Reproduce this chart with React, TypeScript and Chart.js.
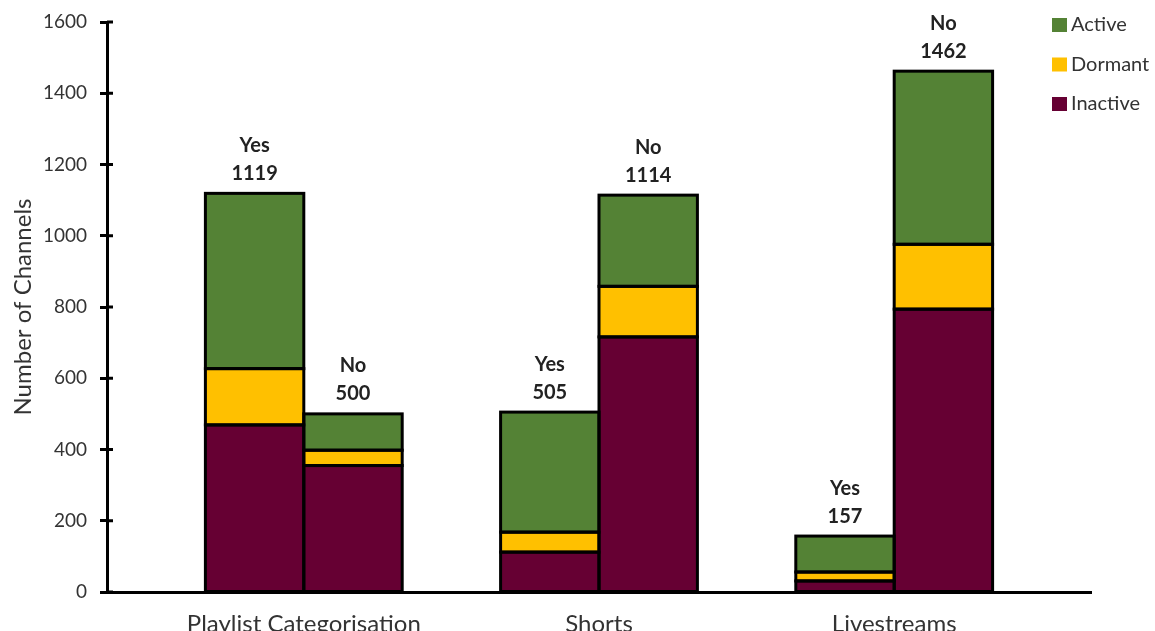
import { useEffect, useRef } from "react";
import { Chart, registerables } from "chart.js";

Chart.register(...registerables);

// Categories along the x axis and the two stacks shown for each
const categories = ["Playlist Categorisation", "Shorts", "Livestreams"];
const stackNames = ["Yes", "No"];
const statusNames = ["Inactive", "Dormant", "Active"];

// Channel counts per status, for channels that use the feature ("Yes")
const inactiveYes = [469, 112, 31];
const dormantYes = [158, 56, 25];
const activeYes = [492, 337, 101];

// Channel counts per status, for channels that do not ("No")
const inactiveNo = [355, 716, 794];
const dormantNo = [43, 142, 182];
const activeNo = [102, 256, 486];

const yMin = 0;
const yMax = 1600;
const yStep = 200;

const statusColors: Record<string, string> = {
  Inactive: "#660033",
  Dormant: "#FFC000",
  Active: "#548235",
};

const FONT = "Lato";
const TEXT = "#333333";
const CANVAS_W = 1155;
const CANVAS_H = 650;

const seriesByStack: Record<string, number[][]> = {
  Yes: [inactiveYes, dormantYes, activeYes],
  No: [inactiveNo, dormantNo, activeNo],
};

// Black outline around every stacked segment, shared edges drawn once
const outlinePlugin = {
  id: "segmentOutline",
  afterDatasetsDraw(chart: any) {
    const ctx = chart.ctx;
    ctx.save();
    ctx.strokeStyle = "#000000";
    ctx.lineWidth = 3;
    ctx.lineJoin = "miter";
    chart.data.datasets.forEach((_: any, di: number) => {
      const meta = chart.getDatasetMeta(di);
      meta.data.forEach((el: any) => {
        const left = el.x - el.width / 2;
        const top = Math.min(el.y, el.base);
        const h = Math.abs(el.base - el.y);
        ctx.strokeRect(left, top, el.width, h);
      });
    });
    ctx.restore();
  },
};

// Stack totals printed above each column ("Yes" / "No" and the count)
const totalsPlugin = {
  id: "stackTotals",
  afterDatasetsDraw(chart: any) {
    const ctx = chart.ctx;
    ctx.save();
    ctx.fillStyle = "#222222";
    ctx.textAlign = "center";
    ctx.textBaseline = "middle";
    ctx.font = `bold 20px ${FONT}`;
    chart.data.datasets.forEach((ds: any, di: number) => {
      if (ds.label !== "Active") return;
      const meta = chart.getDatasetMeta(di);
      const series = seriesByStack[ds.stack];
      meta.data.forEach((el: any, i: number) => {
        const total = series.reduce((s, arr) => s + arr[i], 0);
        ctx.fillText(String(total), el.x, el.y - 20);
        ctx.fillText(ds.stack, el.x, el.y - 48);
      });
    });
    ctx.restore();
  },
};

// Tick marks crossing the value axis, plus the legend in the top-right corner
const decorPlugin = {
  id: "decor",
  afterDraw(chart: any) {
    const ctx = chart.ctx;
    const y = chart.scales.y;
    const x0 = chart.chartArea.left;
    ctx.save();
    ctx.strokeStyle = "#000000";
    ctx.lineWidth = 3;
    for (let v = yMin; v <= yMax; v += yStep) {
      const py = y.getPixelForValue(v);
      ctx.beginPath();
      ctx.moveTo(x0, py);
      ctx.lineTo(x0 + 6, py);
      ctx.stroke();
    }

    const legendOrder = ["Active", "Dormant", "Inactive"];
    ctx.font = `20px ${FONT}`;
    ctx.textAlign = "left";
    ctx.textBaseline = "middle";
    legendOrder.forEach((name, i) => {
      const cy = 25 + i * 39.5;
      ctx.fillStyle = statusColors[name];
      ctx.fillRect(1052, cy - 7, 15, 14);
      ctx.fillStyle = TEXT;
      ctx.fillText(name, 1071, cy);
    });
    ctx.restore();
  },
};

export default function App() {
  const canvasRef = useRef<HTMLCanvasElement | null>(null);

  useEffect(() => {
    if (!canvasRef.current) return;

    const datasets: any[] = [];
    stackNames.forEach((stack) => {
      statusNames.forEach((status, si) => {
        const values = seriesByStack[stack][si];
        datasets.push({
          label: status,
          stack,
          data: values.map((v, i) => ({ x: i, y: v })),
          backgroundColor: statusColors[status],
          borderWidth: 0,
          categoryPercentage: 2 / 3,
          barPercentage: 1,
        });
      });
    });

    const chart = new Chart(canvasRef.current, {
      type: "bar",
      data: { datasets },
      options: {
        animation: false,
        responsive: false,
        devicePixelRatio: 1,
        layout: { padding: { top: 22, right: 64, bottom: 0, left: 0 } },
        plugins: {
          legend: { display: false },
          tooltip: { enabled: false },
        },
        scales: {
          x: {
            type: "linear",
            offset: false,
            bounds: "data",
            min: -2 / 3,
            max: 2 + 2 / 3,
            afterBuildTicks: (scale: any) => {
              scale.ticks = categories.map((_, i) => ({ value: i }));
            },
            afterFit: (scale: any) => {
              scale.height = CANVAS_H - 592;
              scale.paddingLeft = 0;
              scale.paddingRight = 0;
            },
            grid: { display: false },
            border: { display: true, color: "#000000", width: 3 },
            ticks: {
              autoSkip: false,
              maxRotation: 0,
              padding: 10,
              color: TEXT,
              font: { family: FONT, size: 24 },
              callback: (v: any) => (Number.isInteger(v) ? categories[v] : ""),
            },
          },
          y: {
            stacked: true,
            min: yMin,
            max: yMax,
            afterFit: (scale: any) => {
              scale.width = 107;
              scale.paddingTop = 0;
              scale.paddingBottom = 0;
            },
            grid: {
              display: true,
              drawOnChartArea: false,
              drawTicks: true,
              tickLength: 7,
              tickWidth: 3,
              tickColor: "#000000",
            },
            border: { display: true, color: "#000000", width: 3 },
            ticks: {
              stepSize: yStep,
              padding: 13,
              color: TEXT,
              font: { family: FONT, size: 19 },
              callback: (v: any) => String(v),
            },
            title: {
              display: true,
              text: "Number of Channels",
              color: TEXT,
              font: { family: FONT, size: 24 },
              padding: { top: 9, bottom: 0 },
            },
          },
        },
      },
      plugins: [outlinePlugin, totalsPlugin, decorPlugin],
    });

    return () => chart.destroy();
  }, []);

  return (
    <div
      style={{
        position: "fixed",
        left: 0,
        top: 0,
        width: CANVAS_W,
        height: 631,
        overflow: "hidden",
        background: "#ffffff",
      }}
    >
      <canvas ref={canvasRef} width={CANVAS_W} height={CANVAS_H} style={{ display: "block" }} />
    </div>
  );
}
